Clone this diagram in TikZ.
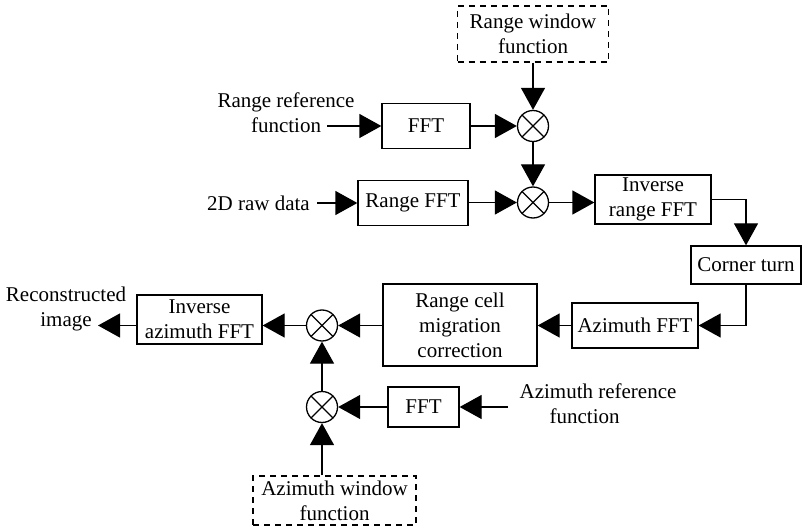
\documentclass[tikz,border=0pt]{standalone}
\usepackage{fontspec}
\setmainfont{Liberation Serif}
\usetikzlibrary{arrows.meta}
\begin{document}
\begin{tikzpicture}[x=1pt,y=-1pt,
  font=\fontsize{21}{25}\selectfont,
  every path/.style={line width=1.3pt},
  blk/.style={draw, line width=1.3pt, align=center, inner sep=0pt, minimum width=#1},
  dblk/.style={blk=#1, dash pattern=on 6pt off 5pt},
  mult/.style={circle, draw, line width=1.3pt, minimum size=31pt, inner sep=0pt,
    path picture={\draw[line width=1.1pt] (path picture bounding box.north west) -- (path picture bounding box.south east)
      (path picture bounding box.north east) -- (path picture bounding box.south west);}},
  txt/.style={align=center, inner sep=0pt},
  arr/.style={-{Triangle[length=22pt,width=24pt]}}
]
\useasboundingbox (0,0) rectangle (802,529);

\node[dblk=151, minimum height=56] (rw) at (533,34) {Range window\\function};
\node[mult] (m1) at (533,126) {};
\node[mult] (m2) at (533,202.5) {};
\node[blk=88, minimum height=45] (fft1) at (426,126) {FFT};
\node[txt] (rrf) at (286,112.5) {Range reference\\function};
\coordinate (rrfs) at (327,126);
\node[blk=110, minimum height=45] (rfft) at (413,203) {Range FFT};
\node[txt] (raw) at (258.5,203) {2D raw data};
\coordinate (raws) at (317,203);
\node[blk=116, minimum height=49] (irf) at (653,199.5) {Inverse\\range FFT};
\node[blk=110, minimum height=38] (ct) at (746,265) {Corner turn};
\node[blk=126, minimum height=45] (az) at (635,325.5) {Azimuth FFT};
\node[blk=154, minimum height=82] (rcmc) at (460,325) {Range cell\\migration\\correction};
\node[mult] (m3) at (322,325.5) {};
\node[blk=125, minimum height=49] (iaz) at (199.5,319.5) {Inverse\\azimuth FFT};
\node[txt] (rec) at (66,309) {Reconstructed\\image};
\coordinate (recend) at (98,325.5);
\node[mult] (m4) at (322,407) {};
\node[blk=71, minimum height=40] (fft2) at (423.5,407) {FFT};
\node[txt, align=left] (azref) at (598,404) {Azimuth reference\\\hspace*{30pt}function};
\coordinate (azrefs) at (508,407);
\node[dblk=163, minimum height=49] (azw) at (334.5,500.5) {Azimuth window\\function};

\draw[arr] (rw.south) -- (m1.north);
\draw[arr] (rrfs) -- (fft1.west |- rrfs);
\draw[arr] (fft1.east |- m1) -- (m1.west);
\draw[arr] (m1.south) -- (m2.north);
\draw[arr] (raws) -- (rfft.west |- raws);
\draw[arr] (rfft.east |- m2) -- (m2.west);
\draw[arr] (m2.east) -- (irf.west |- m2);
\draw[arr] (irf.east) -| (ct.north);
\draw[arr] (ct.south) |- (az.east);
\draw[arr] (az.west) -- (rcmc.east |- az.west);
\draw[arr] (rcmc.west |- m3) -- (m3.east);
\draw[arr] (m3.west) -- (m3.west -| iaz.east);
\draw[arr] (iaz.west |- m3) -- (recend);
\draw[arr] (m4.north) -- (m3.south);
\draw[arr] (fft2.west |- m4) -- (m4.east);
\draw[arr] (azrefs) -- (fft2.east |- azrefs);
\draw[arr] (azw.north -| m4) -- (m4.south);
\end{tikzpicture}
\end{document}
